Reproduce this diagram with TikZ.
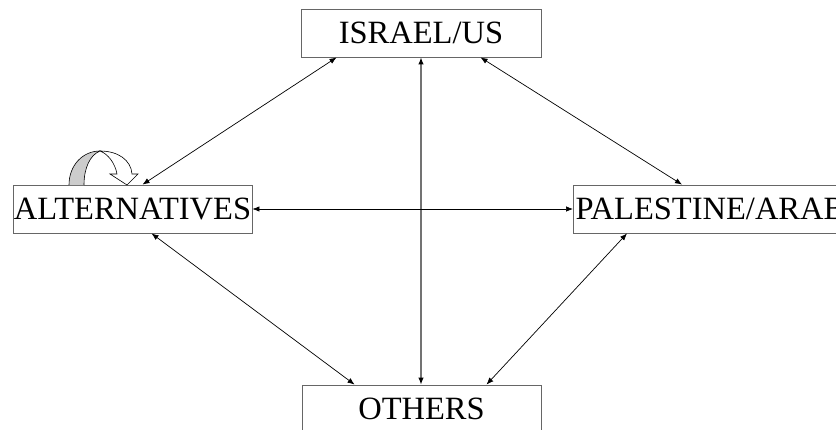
\documentclass[tikz,border=0pt]{standalone}
\usepackage{fontspec}
\setmainfont{Liberation Serif}
\usetikzlibrary{arrows.meta,calc}
\tikzset{
  box/.style={draw=black!60, line width=0.9pt, fill=white, inner sep=0pt,
    minimum height=48pt, font=\fontsize{32.5}{36}\selectfont},
  link/.style={{Latex[length=7pt,width=5.5pt,color=black]}-{Latex[length=7pt,width=5.5pt,color=black]}, line width=0.7pt, black},
  curvearrow/.style={draw=black, line width=0.6pt}
}
\begin{document}
\begin{tikzpicture}[x=1pt,y=-1pt]
\useasboundingbox (0,0) rectangle (836,429);
\clip (0,0) rectangle (836,429);
\node[box, minimum width=240pt] (isr) at (421,33) {ISRAEL/US};
\node[box, minimum width=239pt] (alt) at (132.5,209) {ALTERNATIVES};
\node[box, minimum width=274pt, anchor=west] (pal) at (573,209) {PALESTINE/ARAB};
\node[box, minimum width=239pt] (oth) at (421.5,409) {OTHERS};

\draw[link] ($(isr.south west)+(36,0)$) -- ($(alt.north west)+(130,0)$);
\draw[link] ($(isr.south west)+(180,0)$) -- ($(pal.north west)+(109,0)$);
\draw[link, draw=black!55, line width=1.1pt] (isr.south) -- (isr.south |- oth.north);
\draw[link] (alt.east) -- (pal.west);
\draw[link] ($(alt.south west)+(139,0)$) -- ($(oth.north west)+(53,0)$);
\draw[link] ($(pal.south west)+(54,0)$) -- ($(oth.north west)+(185,0)$);

% curved block arrow
\fill[black!20] (69,185) .. controls (69,165) and (83,151) .. (100,151)
  .. controls (90,155) and (84,168) .. (84,185) -- cycle;
\draw[curvearrow] (69,185) .. controls (69,165) and (83,151) .. (100,151)
  .. controls (90,155) and (84,168) .. (84,185);
\draw[curvearrow, fill=white] (100,151) .. controls (118,151) and (131,160) .. (132,174)
  -- (138,174) -- (127,185) -- (110,174) -- (117,174)
  .. controls (115,163) and (108,154) .. (100,151) -- cycle;
\end{tikzpicture}
\end{document}
